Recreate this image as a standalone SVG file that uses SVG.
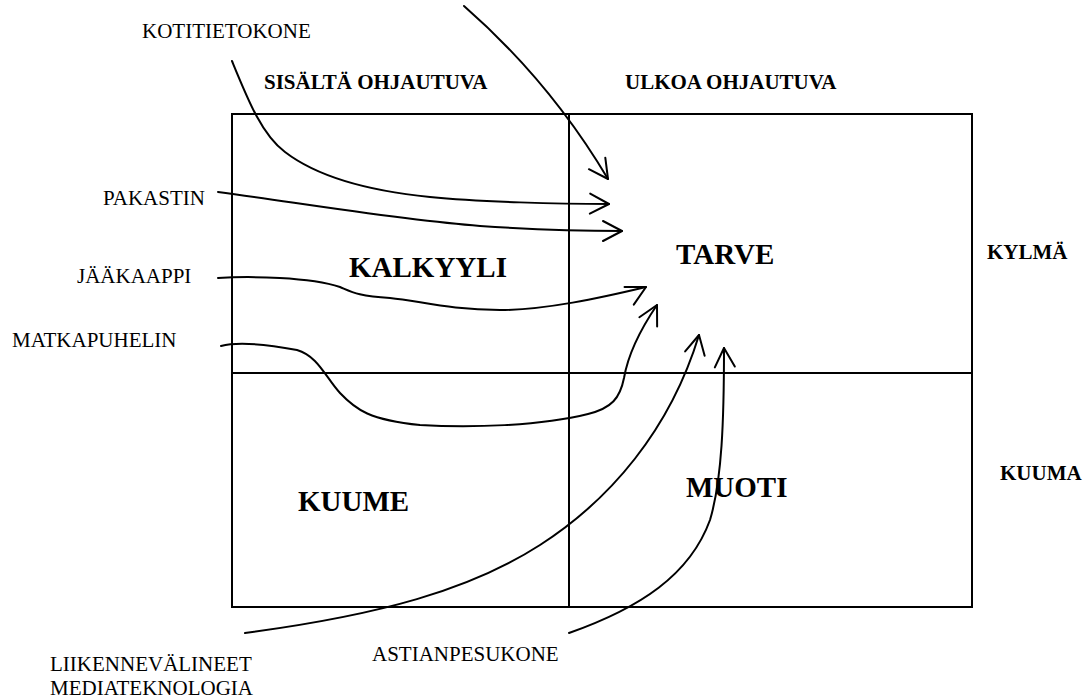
<svg xmlns="http://www.w3.org/2000/svg" xmlns:xlink="http://www.w3.org/1999/xlink" width="1085" height="698" viewBox="0 0 1085 698">
<style>
  text { font-family: "Liberation Serif", "Times New Roman", serif; fill: #000; }
  .lbl { font-size: 21px; }
  .hdr { font-size: 21px; font-weight: bold; }
  .big { font-size: 29px; font-weight: bold; }
  .frame { fill: none; stroke: #000; stroke-width: 2; }
  .curve { fill: none; stroke: #000; stroke-width: 2; stroke-linecap: round; stroke-linejoin: round; }
</style>
<defs>
  <path id="head" d="M-19,-10 L0,0 L-19,10" fill="none" stroke="#000" stroke-width="2" stroke-linecap="round" stroke-linejoin="round"/>
</defs>
<rect width="1085" height="698" fill="#fff"/>

<g id="matrix">
  <rect class="frame" x="232" y="114" width="740" height="493"/>
  <line class="frame" x1="569" y1="114" x2="569" y2="607"/>
  <line class="frame" x1="232" y1="373" x2="972" y2="373"/>
</g>

<g id="axis-labels">
  <text class="hdr" x="264" y="89">SISÄLTÄ OHJAUTUVA</text>
  <text class="hdr" x="625" y="89">ULKOA OHJAUTUVA</text>
  <text class="hdr" x="987" y="259">KYLMÄ</text>
  <text class="hdr" x="1000" y="480">KUUMA</text>
</g>

<g id="quadrant-kalkyyli"><text class="big" x="349" y="277">KALKYYLI</text></g>
<g id="quadrant-tarve"><text class="big" x="676" y="264">TARVE</text></g>
<g id="quadrant-kuume"><text class="big" x="298" y="511">KUUME</text></g>
<g id="quadrant-muoti"><text class="big" x="686" y="497">MUOTI</text></g>

<g id="node-kotitietokone"><text class="lbl" x="142" y="38">KOTITIETOKONE</text></g>
<g id="node-pakastin"><text class="lbl" x="103" y="205">PAKASTIN</text></g>
<g id="node-jaakaappi"><text class="lbl" x="77" y="283">JÄÄKAAPPI</text></g>
<g id="node-matkapuhelin"><text class="lbl" x="12" y="347">MATKAPUHELIN</text></g>
<g id="node-liikennevalineet">
  <text class="lbl" x="50" y="671">LIIKENNEVÄLINEET</text>
  <text class="lbl" x="50" y="695">MEDIATEKNOLOGIA</text>
</g>
<g id="node-astianpesukone"><text class="lbl" x="372" y="661">ASTIANPESUKONE</text></g>

<g id="connectors">
  <path class="curve" d="M464,6 C520,55 570,115 608,179"/>
  <use xlink:href="#head" transform="translate(608,179) rotate(55)"/>

  <path class="curve" d="M232,61 C248,100 262,135 285,152 C315,175 360,190 430,197 C480,202 560,204 609,204"/>
  <use xlink:href="#head" transform="translate(609,204) rotate(1)"/>

  <path class="curve" d="M218,192 C300,203 400,220 480,226 C540,230 580,231 622,231"/>
  <use xlink:href="#head" transform="translate(622,231) rotate(0)"/>

  <path class="curve" d="M218,278 C250,276 310,277 340,287 C352,292 358,296 390,298 C420,301 450,310 500,310 C545,310 600,298 646,287"/>
  <use xlink:href="#head" transform="translate(646,287) rotate(-27.5)"/>

  <path class="curve" d="M221,346 C240,341 270,345 297,350 C318,356 326,378 340,393 C356,410 370,420 420,425 C470,428 540,426 588,414 C612,408 620,398 624,378 C628,355 640,330 657,305"/>
  <use xlink:href="#head" transform="translate(657,305) rotate(-62.6)"/>

  <path class="curve" d="M245,633 C380,615 470,590 540,545 C610,500 670,430 699,335"/>
  <use xlink:href="#head" transform="translate(699,335) rotate(-77.5)"/>

  <path class="curve" d="M569,633 C640,608 690,575 710,520 C722,480 724,420 724,348"/>
  <use xlink:href="#head" transform="translate(724,348) rotate(-92.5)"/>
</g>
</svg>
